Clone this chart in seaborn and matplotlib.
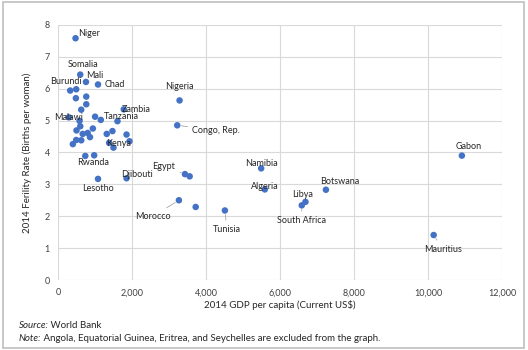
import numpy as np
import pandas as pd
import matplotlib.pyplot as plt
import seaborn as sns

# values
countries = ["Niger", "Somalia", "Mali", "Chad", "Burundi", "", "", "", "", "",
             "Zambia", "Malawi", "", "Tanzania", "", "", "", "", "", "",
             "", "", "", "", "", "", "", "", "Kenya", "",
             "", "Nigeria", "Congo, Rep.", "Rwanda", "", "Lesotho", "Djibouti", "Egypt", "", "Morocco",
             "", "Tunisia", "Namibia", "Algeria", "Botswana", "Libya", "South Africa", "Gabon", "Mauritius"]
gdp = [472, 599, 753, 1079, 327, 490, 481, 762, 762, 626,
       1775, 290, 1000, 1155, 1605, 580, 600, 940, 498, 800,
       665, 862, 1315, 1469, 1850, 490, 626, 399, 1380, 1497,
       1930, 3283, 3220, 735, 975, 1079, 1850, 3429, 3556, 3265,
       3719, 4508, 5488, 5587, 7238, 6685, 6585, 10912, 10150]
fertility = [7.58, 6.44, 6.21, 6.13, 5.94, 5.98, 5.70, 5.75, 5.51, 5.34,
             5.35, 5.10, 5.12, 5.02, 4.98, 4.99, 4.82, 4.75, 4.69, 4.61,
             4.58, 4.48, 4.58, 4.67, 4.56, 4.39, 4.38, 4.26, 4.30, 4.15,
             4.35, 5.63, 4.85, 3.89, 3.91, 3.17, 3.19, 3.32, 3.25, 2.50,
             2.29, 2.18, 3.50, 2.84, 2.83, 2.45, 2.34, 3.90, 1.41]

# label placement (offset in pixels, alignment, leader line)
label_pos = {
    "Niger": (14, 5, "center", False),
    "Somalia": (3, 10, "center", False),
    "Mali": (9, 6, "center", False),
    "Chad": (17, 0, "center", False),
    "Burundi": (-4, 9, "center", False),
    "Malawi": (0, 0, "center", False),
    "Tanzania": (21, 3, "center", False),
    "Zambia": (12, 0, "center", False),
    "Kenya": (9, -1, "center", False),
    "Rwanda": (8, -7, "center", False),
    "Lesotho": (0, -10, "center", False),
    "Djibouti": (10, 4, "center", False),
    "Nigeria": (0, 14, "center", False),
    "Congo, Rep.": (15, -5, "left", True),
    "Egypt": (-21, 8, "center", True),
    "Morocco": (-26, -16, "center", True),
    "Tunisia": (2, -19, "center", True),
    "Namibia": (0, 5, "center", False),
    "Algeria": (0, 3, "center", False),
    "Botswana": (14, 8, "center", False),
    "Libya": (-3, 7, "center", False),
    "South Africa": (0, -15, "center", True),
    "Gabon": (7, 9, "center", False),
    "Mauritius": (9, -14, "center", True),
}

df = pd.DataFrame({"country": countries, "gdp": gdp, "fertility": fertility})

sns.set_style("whitegrid")
plt.rcParams["font.family"] = ["Lato", "DejaVu Sans"]

fig = plt.figure(figsize=(5.28, 3.5), dpi=100)
ax = fig.add_axes([0.110, 0.2, 0.841, 0.729])

sns.scatterplot(data=df, x="gdp", y="fertility", color="#4472C4",
                s=22, edgecolor="none", ax=ax, zorder=3)

for name, x, y in zip(countries, gdp, fertility):
    if not name:
        continue
    dx, dy, ha, leader = label_pos[name]
    arrow = dict(arrowstyle="-", color="#a6a6a6", lw=0.6, shrinkA=1, shrinkB=3) if leader else None
    ax.annotate(name, (x, y), xytext=(dx, dy), textcoords="offset pixels",
                ha=ha, va="center", fontsize=6.5, color="#262626",
                arrowprops=arrow, zorder=4)

ax.set_xlim(0, 12000)
ax.set_ylim(0, 8)
ax.set_xticks(np.arange(0, 12001, 2000))
ax.set_yticks(np.arange(0, 9, 1))
ax.set_xticklabels([f"{v:,}" for v in range(0, 12001, 2000)])
ax.tick_params(labelsize=6.5, colors="#404040", length=0, pad=6)
ax.grid(color="#d9d9d9", lw=0.8)
for s in ax.spines.values():
    s.set_visible(False)
ax.set_xlabel("2014 GDP per capita (Current US$)", fontsize=7, color="#262626", labelpad=2)
ax.set_ylabel("2014 Ferility Rate (Births per woman)", fontsize=7, color="#262626", labelpad=9)

# footnotes
t1 = fig.text(0.035, 0.063, "Source:", style="italic", fontsize=7, color="#262626")
ax.annotate(" World Bank", xy=(1, 0), xycoords=t1, va="bottom", fontsize=7, color="#262626")
t2 = fig.text(0.035, 0.025, "Note:", style="italic", fontsize=7, color="#262626")
ax.annotate(" Angola, Equatorial Guinea, Eritrea, and Seychelles are excluded from the graph.",
            xy=(1, 0), xycoords=t2, va="bottom", fontsize=7, color="#262626")

# outer border
fig.patches.append(plt.Rectangle((0.005, 0.005), 0.988, 0.99, transform=fig.transFigure,
                                 fill=False, edgecolor="#bfbfbf", lw=1.2))

fig.savefig("out.png", dpi=100)
